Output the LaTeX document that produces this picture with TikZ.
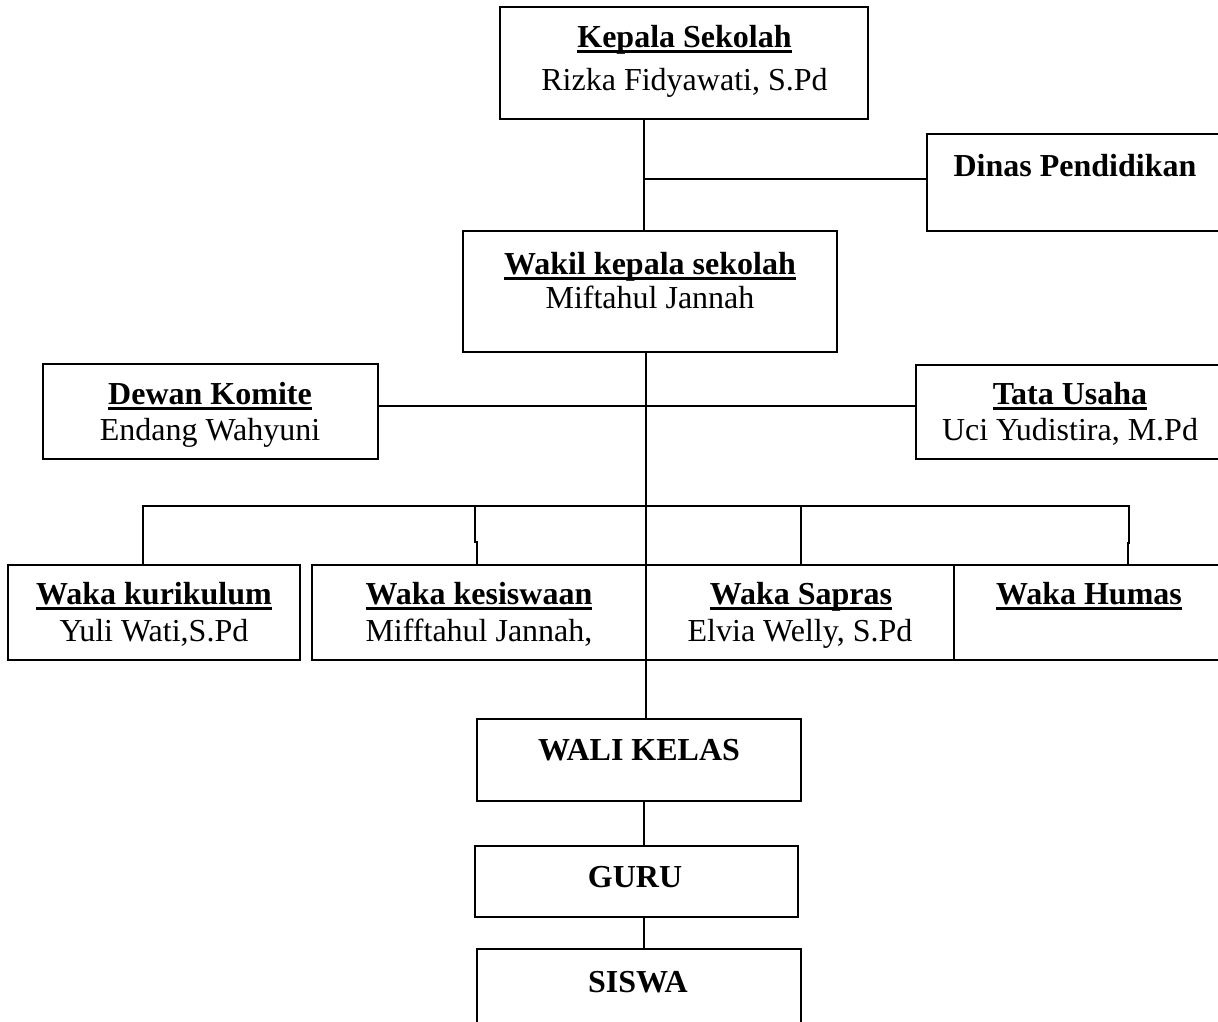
\documentclass[tikz,border=0pt]{standalone}
\usepackage{fontspec}
\setmainfont{Liberation Serif}
\newcommand\ulbold[1]{\setbox0\hbox{\bfseries #1}\rlap{\rule[-5.5pt]{\wd0}{3pt}}\box0}
\begin{document}
\begin{tikzpicture}[x=1pt,y=-1pt,
  box/.style={draw=black, line width=2.2pt, rectangle, inner sep=0pt, outer sep=0pt},
  txt/.style={anchor=base, inner sep=0pt, font=\fontsize{32}{38}\selectfont},
  conn/.style={draw=black, line width=1.8pt}]
\useasboundingbox (0,0) rectangle (1218,1022);
\clip (0,0) rectangle (1218,1022);
% boxes
\node[box, minimum width=368pt, minimum height=112pt] (kepala) at (684,63) {};
\node[box, minimum width=303pt, minimum height=97pt] (dinas) at (1078.5,182.5) {};
\node[box, minimum width=374pt, minimum height=121pt] (wakil) at (650,291.5) {};
\node[box, minimum width=335pt, minimum height=95pt] (dewan) at (210.5,411.5) {};
\node[box, minimum width=314pt, minimum height=94pt] (tata) at (1073,412) {};
\node[box, minimum width=292pt, minimum height=95pt] (kuri) at (154,612.5) {};
\node[box, minimum width=334pt, minimum height=95pt] (kesis) at (479,612.5) {};
\node[box, minimum width=308pt, minimum height=95pt] (sapras) at (800,612.5) {};
\node[box, minimum width=276pt, minimum height=95pt] (humas) at (1092,612.5) {};
\node[box, minimum width=324pt, minimum height=82pt] (wali) at (639,760) {};
\node[box, minimum width=323pt, minimum height=71pt] (guru) at (636.5,881.5) {};
\node[box, minimum width=324pt, minimum height=81pt] (siswa) at (639,989.5) {};
% texts
\node[txt] (kepalaT) at (684.5,48) {\ulbold{Kepala Sekolah}};
\node[txt] (kepalaN) at (684.5,91) {Rizka Fidyawati, S.Pd};
\node[txt] (dinasT) at (1075,176) {\bfseries Dinas Pendidikan};
\node[txt] (wakilT) at (650,274) {\ulbold{Wakil kepala sekolah}};
\node[txt] (wakilN) at (650,308) {Miftahul Jannah};
\node[txt] (dewanT) at (210,404) {\ulbold{Dewan Komite}};
\node[txt] (dewanN) at (210,440) {Endang Wahyuni};
\node[txt] (tataT) at (1070,404) {\ulbold{Tata Usaha}};
\node[txt] (tataN) at (1070,440) {Uci Yudistira, M.Pd};
\node[txt] (kuriT) at (154,604) {\ulbold{Waka kurikulum}};
\node[txt] (kuriN) at (154,641) {Yuli Wati,S.Pd};
\node[txt] (kesisT) at (479,604) {\ulbold{Waka kesiswaan}};
\node[txt] (kesisN) at (479,641) {Mifftahul Jannah,};
\node[txt] (saprasT) at (801,604) {\ulbold{Waka Sapras}};
\node[txt] (saprasN) at (800,641) {Elvia Welly, S.Pd};
\node[txt] (humasT) at (1089,604) {\ulbold{Waka Humas}};
\node[txt] (waliT) at (639,760) {\bfseries WALI KELAS};
\node[txt] (guruT) at (635,887) {\bfseries GURU};
\node[txt] (siswaT) at (638,992) {\bfseries SISWA};
% connector coordinates
\coordinate (sp1) at (644,179);
\coordinate (sp2) at (646,406);
\coordinate (d1) at (143,506);
\coordinate (d2) at (475,506);
\coordinate (d2b) at (477,542);
\coordinate (d3) at (801,506);
\coordinate (d4) at (1129,506);
\coordinate (d4b) at (1128,543);
\coordinate (sp3) at (644,830);
% connectors
\draw[conn] (sp1 |- kepala.south) -- (sp1 |- wakil.north);
\draw[conn] (sp1) -- (sp1 -| dinas.west);
\draw[conn] (sp2 |- wakil.south) -- (sp2 |- wali.north);
\draw[conn] (sp2 -| dewan.east) -- (sp2 -| tata.west);
\draw[conn, line join=miter] (d1 |- kuri.north) -- (d1) -- (d4) -- (d4 |- d4b) -- (d4b) -- (d4b |- humas.north);
\draw[conn] (d2) -- (d2 |- d2b) -- (d2b) -- (d2b |- kesis.north);
\draw[conn] (d3) -- (d3 |- sapras.north);
\draw[conn] (sp3 |- wali.south) -- (sp3 |- guru.north);
\draw[conn] (sp3 |- guru.south) -- (sp3 |- siswa.north);
\end{tikzpicture}
\end{document}
